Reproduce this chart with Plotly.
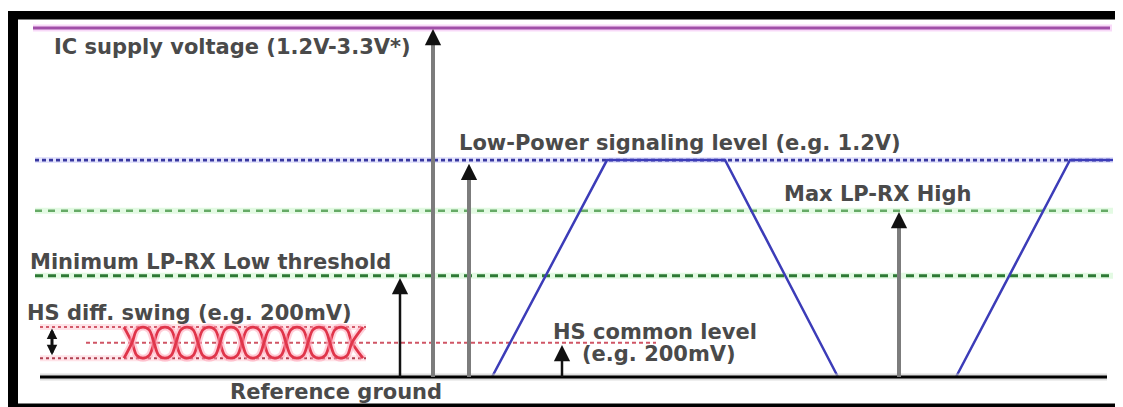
import plotly.graph_objects as go

# page body has an 8px margin, so the figure covers reference pixels 8..1123 / 8..407
W, H = 1115, 399
X0, Y0 = 8, 8

# ---- signal levels on the diagram (volts, roughly to scale) ----
supply_v = 1.93        # IC supply voltage
lp_level_v = 1.20      # Low-Power signaling level
lp_rx_high_v = 0.92    # Max LP-RX High
lp_rx_low_v = 0.56     # Minimum LP-RX Low threshold
hs_common_v = 0.19     # HS common level
hs_half_swing = 0.086  # half of HS differential swing
ground_v = 0.0

# ---- LP signal trace (time units, volts) ----
lp_t1 = [492, 607, 725, 838]
lp_v1 = [0.0, 1.2, 1.2, 0.0]
lp_t2 = [956, 1070, 1113]
lp_v2 = [0.0, 1.2, 1.2]

# ---- HS differential eye: crossing instants ----
eye_cross = [132, 154, 176, 198, 220, 242, 264, 286, 308, 330, 352]
eye_start, eye_end = 124, 363

# ---- vertical level arrows from ground ----
arrow_x = [400, 433, 469, 562, 899]
arrow_tip = [0.548, 1.925, 1.18, 0.177, 0.913]
arrow_color = ["#111111", "#7c7c7c", "#7c7c7c", "#111111", "#7c7c7c"]
arrow_width = [2.5, 4, 4, 2.5, 4]

# ---- labels ----
label_text = [
    "IC supply voltage (1.2V-3.3V*)",
    "Low-Power signaling level (e.g. 1.2V)",
    "Max LP-RX High",
    "Minimum LP-RX Low threshold",
    "HS diff. swing (e.g. 200mV)",
    "HS common level",
    "(e.g. 200mV)",
    "Reference ground",
]
label_x = [52, 457, 782, 28, 25, 551, 580, 228]
label_v = [1.825, 1.294, 1.012, 0.636, 0.354, 0.249, 0.127, -0.083]

PX_PER_V = 180.8
GROUND_PX = 377
Y_TOP = (GROUND_PX - Y0) / PX_PER_V
Y_BOT = (GROUND_PX - (Y0 + H)) / PX_PER_V


def py(p):
    """reference pixel row -> paper fraction"""
    return 1 - (p - Y0) / H


def pxf(p):
    """reference pixel column -> paper fraction"""
    return (p - X0) / W


fig = go.Figure()


def hline(v, x0, x1, color, width, dash="solid"):
    fig.add_trace(go.Scatter(x=[x0, x1], y=[v, v], mode="lines",
                             line=dict(color=color, width=width, dash=dash),
                             hoverinfo="skip", showlegend=False))


# supply line (with soft halo)
hline(supply_v, 33, 1112, "rgba(240,170,240,0.45)", 7)
hline(supply_v, 33, 1110, "#a04fa8", 3)
# LP level (blue dashed)
hline(lp_level_v, 35, 1113, "rgba(175,175,245,0.35)", 6)
hline(lp_level_v, 35, 1113, "#3838a0", 2.8, dash="4px,3px")
# LP-RX high (light green dashed)
hline(lp_rx_high_v, 35, 1113, "rgba(200,245,200,0.5)", 6)
hline(lp_rx_high_v, 35, 1113, "#66aa66", 2.5, dash="7px,6px")
# LP-RX low (dark green dashed)
hline(lp_rx_low_v, 35, 1113, "rgba(200,245,200,0.5)", 6)
hline(lp_rx_low_v, 35, 1113, "#2d7a35", 2.8, dash="8px,5px")
# HS swing bounds and common level (red dotted)
hline(hs_common_v + hs_half_swing, 40, 366, "rgba(255,200,210,0.5)", 6)
hline(hs_common_v - hs_half_swing, 40, 366, "rgba(255,200,210,0.5)", 6)
hline(hs_common_v + hs_half_swing, 40, 366, "#d25a6a", 2, dash="3px,3px")
hline(hs_common_v - hs_half_swing, 40, 366, "#b04050", 2, dash="3px,3px")
hline(hs_common_v, 86, 656, "#d05565", 2, dash="4px,3px")

# HS eye pattern (two opposite-phase rounded curves)
top = hs_common_v + hs_half_swing
bot = hs_common_v - hs_half_swing
profile_f = [0.22, 0.5, 0.78]
profile_a = [0.82, 1.0, 0.82]
for phase in (0, 1):
    first = top if phase == 0 else bot
    xs, ys = [eye_start], [first]
    for k, c in enumerate(eye_cross):
        xs.append(c)
        ys.append(hs_common_v)
        sign = -1 if (k + phase) % 2 == 0 else 1
        if k + 1 < len(eye_cross):
            ui = eye_cross[k + 1] - c
            for f, a in zip(profile_f, profile_a):
                xs.append(c + f * ui)
                ys.append(hs_common_v + sign * a * hs_half_swing)
        else:
            xs.append(eye_end)
            ys.append(hs_common_v + sign * hs_half_swing)
    fig.add_trace(go.Scatter(x=xs, y=ys, mode="lines", line_shape="spline",
                             line=dict(color="rgba(255,160,180,0.5)", width=7),
                             hoverinfo="skip", showlegend=False))
    fig.add_trace(go.Scatter(x=xs, y=ys, mode="lines", line_shape="spline",
                             line=dict(color="#e0354a", width=2.8),
                             hoverinfo="skip", showlegend=False))

# LP signal trace
for tt, vv in ((lp_t1, lp_v1), (lp_t2, lp_v2)):
    fig.add_trace(go.Scatter(x=tt, y=vv, mode="lines",
                             line=dict(color="#3c3cb8", width=2.5),
                             hoverinfo="skip", showlegend=False))

# reference ground
hline(ground_v, 40, 1107, "rgba(200,200,200,0.6)", 7)
hline(ground_v, 40, 1107, "#000000", 3)

# vertical arrows: shaft in arrow colour, dark filled head
HEAD_V = 0.05
for x, tip, c, w in zip(arrow_x, arrow_tip, arrow_color, arrow_width):
    fig.add_trace(go.Scatter(x=[x, x], y=[ground_v, tip - HEAD_V], mode="lines",
                             line=dict(color=c, width=w),
                             hoverinfo="skip", showlegend=False))
    fig.add_annotation(x=x, y=tip, ax=x, ay=tip - HEAD_V, xref="x", yref="y",
                       axref="x", ayref="y", text="", showarrow=True,
                       arrowhead=2, arrowsize=1.3, arrowwidth=2.5,
                       arrowcolor="#111111", standoff=0)
# HS swing double arrow
fig.add_annotation(x=52, y=hs_common_v + 0.078, ax=52, ay=hs_common_v - 0.078,
                   xref="x", yref="y", axref="x", ayref="y", text="",
                   showarrow=True, arrowhead=2, arrowside="end+start",
                   arrowsize=0.7, arrowwidth=3, arrowcolor="#111111", standoff=0)

# labels
for t, x, v in zip(label_text, label_x, label_v):
    fig.add_annotation(x=x, y=v, xref="x", yref="y", text=t, showarrow=False,
                       xanchor="left", yanchor="middle",
                       font=dict(family="DejaVu Sans", size=21, color="#4a4a4a",
                                 weight="bold"))

# frame (black borders)
frame = [
    (8, 11, 1121, 19.5),    # top
    (8, 11, 18, 407),       # left
    (8, 403.5, 1123, 407),  # bottom
]
for x0, y0, x1, y1 in frame:
    fig.add_shape(type="rect", xref="paper", yref="paper", x0=pxf(x0), x1=pxf(x1),
                  y0=py(y1), y1=py(y0), fillcolor="#000000", line_width=0,
                  layer="above")

fig.update_layout(
    width=W, height=H, margin=dict(l=0, r=0, t=0, b=0),
    paper_bgcolor="white", plot_bgcolor="white",
    xaxis=dict(range=[X0, X0 + W], visible=False, fixedrange=True),
    yaxis=dict(range=[Y_BOT, Y_TOP], visible=False, fixedrange=True),
    font=dict(family="DejaVu Sans"),
    hovermode=False, showlegend=False,
)

fig.write_html("out.html")
